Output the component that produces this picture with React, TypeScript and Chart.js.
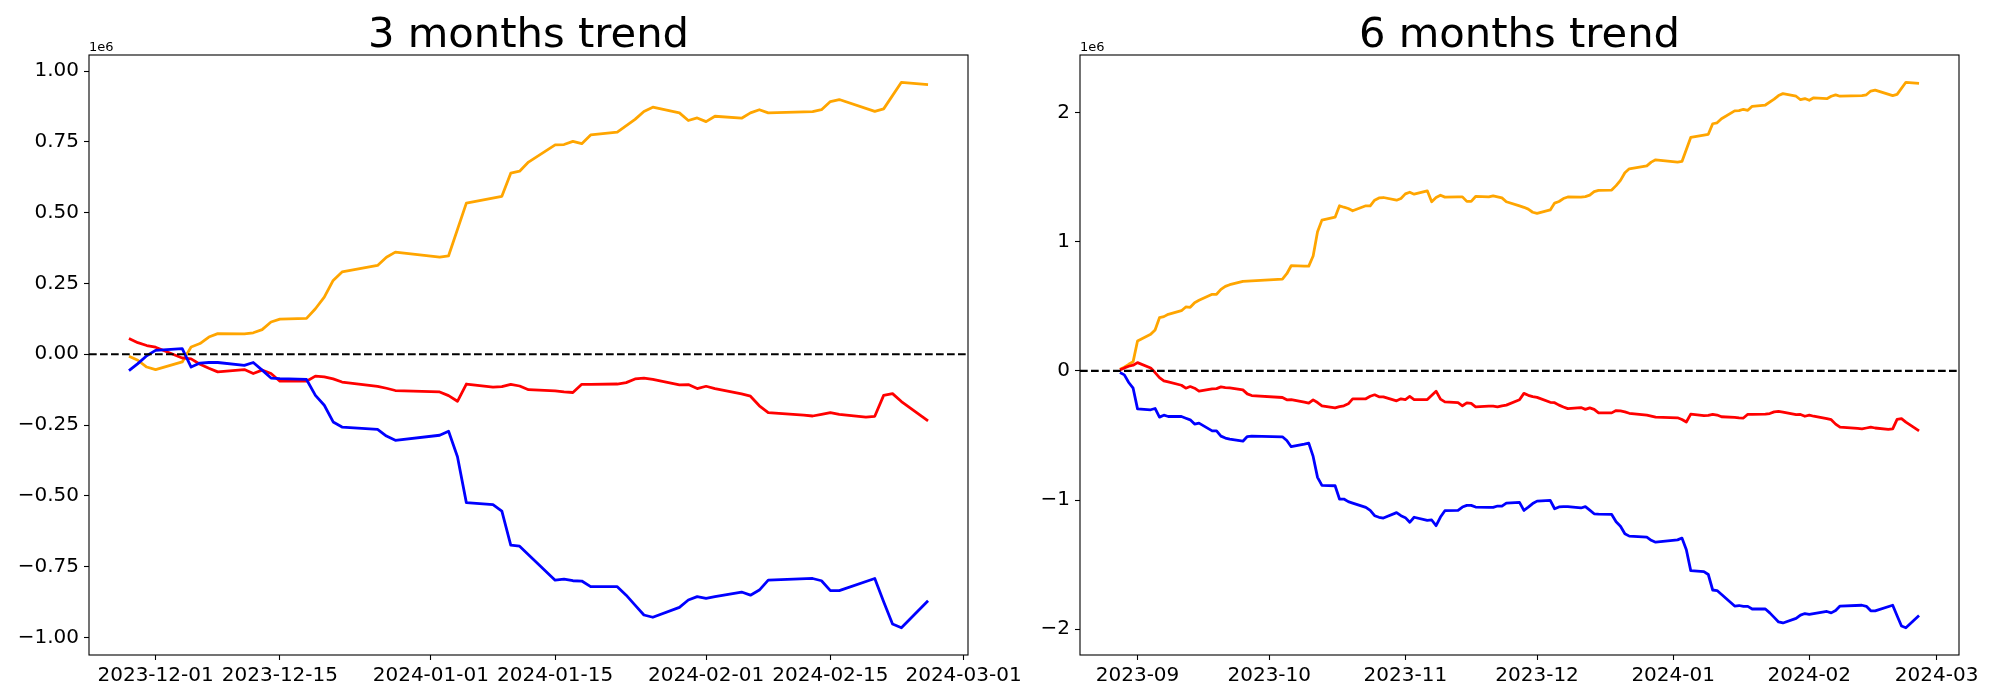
import React, { useEffect, useRef } from 'react';
import { Chart, registerables } from 'chart.js';

Chart.register(...registerables);

// ---------- data (values in units of 1e6) ----------
const dates3 = [
  '2023-11-28','2023-11-29','2023-11-30','2023-12-01','2023-12-04','2023-12-05','2023-12-06','2023-12-07','2023-12-08',
  '2023-12-11','2023-12-12','2023-12-13','2023-12-14','2023-12-15','2023-12-18','2023-12-19','2023-12-20','2023-12-21',
  '2023-12-22','2023-12-26','2023-12-27','2023-12-28','2023-12-29','2024-01-02','2024-01-03','2024-01-04','2024-01-05',
  '2024-01-08','2024-01-09','2024-01-10','2024-01-11','2024-01-12','2024-01-15','2024-01-16','2024-01-17','2024-01-18',
  '2024-01-19','2024-01-22','2024-01-23','2024-01-24','2024-01-25','2024-01-26','2024-01-29','2024-01-30','2024-01-31',
  '2024-02-01','2024-02-02','2024-02-05','2024-02-06','2024-02-07','2024-02-08','2024-02-09','2024-02-12','2024-02-13',
  '2024-02-14','2024-02-15','2024-02-16','2024-02-19','2024-02-20','2024-02-21','2024-02-22','2024-02-23','2024-02-26',
];
const orange3 = [
  -0.007,-0.021,-0.045,-0.054,-0.027,0.026,0.038,0.061,0.073,
  0.072,0.076,0.087,0.114,0.124,0.127,0.161,0.202,0.261,
  0.291,0.314,0.343,0.361,null,0.343,0.348,null,0.534,
  null,0.558,0.640,0.647,0.679,0.740,0.741,0.752,0.744,
  0.775,0.785,null,0.830,0.858,0.873,0.853,0.826,0.835,
  0.822,0.841,0.834,0.853,0.864,0.853,null,null,0.857,
  0.864,0.893,0.900,null,0.858,0.867,null,0.961,0.953,
];
const red3 = [
  0.056,0.041,0.031,0.025,-0.013,-0.016,-0.035,-0.049,-0.062,
  -0.054,-0.068,-0.056,-0.068,-0.095,-0.095,-0.077,-0.080,-0.087,
  -0.098,-0.113,-0.120,-0.128,null,-0.133,-0.146,-0.166,-0.105,
  -0.116,-0.114,-0.106,-0.112,-0.125,-0.129,-0.133,-0.135,-0.106,
  -0.106,-0.105,-0.100,-0.087,-0.084,-0.089,-0.108,-0.107,-0.121,
  -0.113,-0.121,-0.140,-0.148,-0.182,-0.206,null,-0.215,-0.218,
  -0.212,-0.206,-0.212,-0.222,-0.219,-0.145,-0.139,-0.167,-0.235,
];
const blue3 = [
  -0.058,-0.033,-0.005,0.014,0.020,-0.045,-0.031,-0.029,-0.029,
  -0.039,-0.029,-0.056,-0.084,-0.086,-0.089,-0.145,-0.180,-0.239,
  -0.257,-0.265,-0.289,-0.304,null,-0.286,-0.272,-0.362,-0.524,
  -0.531,-0.554,-0.674,-0.678,null,-0.798,-0.794,-0.800,-0.801,
  -0.821,-0.821,-0.851,-0.886,-0.921,-0.929,-0.894,-0.868,-0.856,
  -0.862,-0.856,-0.840,-0.851,-0.833,-0.798,null,null,-0.792,
  -0.800,-0.835,-0.835,null,-0.792,-0.874,-0.953,-0.966,-0.871,
];

const dates6 = [
  '2023-08-28','2023-08-29','2023-08-30','2023-08-31','2023-09-01',
  '2023-09-04','2023-09-05','2023-09-06','2023-09-07','2023-09-08',
  '2023-09-11','2023-09-12','2023-09-13','2023-09-14','2023-09-15',
  '2023-09-18','2023-09-19','2023-09-20','2023-09-21','2023-09-22',
  '2023-09-25','2023-09-26','2023-09-27','2023-09-28','2023-09-29',
  '2023-10-02','2023-10-03','2023-10-04','2023-10-05','2023-10-06',
  '2023-10-09','2023-10-10','2023-10-11','2023-10-12','2023-10-13',
  '2023-10-16','2023-10-17','2023-10-18','2023-10-19','2023-10-20',
  '2023-10-23','2023-10-24','2023-10-25','2023-10-26','2023-10-27',
  '2023-10-30','2023-10-31','2023-11-01','2023-11-02','2023-11-03',
  '2023-11-06','2023-11-07','2023-11-08','2023-11-09','2023-11-10',
  '2023-11-13','2023-11-14','2023-11-15','2023-11-16','2023-11-17',
  '2023-11-20','2023-11-21','2023-11-22','2023-11-23','2023-11-24',
  '2023-11-27',
  '2023-11-28','2023-11-29','2023-11-30','2023-12-01','2023-12-04','2023-12-05','2023-12-06','2023-12-07','2023-12-08',
  '2023-12-11','2023-12-12','2023-12-13','2023-12-14','2023-12-15','2023-12-18','2023-12-19','2023-12-20','2023-12-21',
  '2023-12-22','2023-12-26','2023-12-27','2023-12-28','2023-12-29','2024-01-02','2024-01-03','2024-01-04','2024-01-05',
  '2024-01-08','2024-01-09','2024-01-10','2024-01-11','2024-01-12','2024-01-15','2024-01-16','2024-01-17','2024-01-18',
  '2024-01-19','2024-01-22','2024-01-23','2024-01-24','2024-01-25','2024-01-26','2024-01-29','2024-01-30','2024-01-31',
  '2024-02-01','2024-02-02','2024-02-05','2024-02-06','2024-02-07','2024-02-08','2024-02-09','2024-02-12','2024-02-13',
  '2024-02-14','2024-02-15','2024-02-16','2024-02-19','2024-02-20','2024-02-21','2024-02-22','2024-02-23','2024-02-26',
];
const orange6 = [
  0.013,0.028,0.051,0.072,0.232,
  0.283,0.317,0.412,0.420,0.438,
  0.466,0.495,0.492,0.528,0.546,
  0.593,0.593,0.631,0.654,0.667,
  0.693,null,null,null,null,
  null,null,0.711,0.752,0.814,
  0.811,0.811,0.889,1.077,1.167,
  1.190,1.278,1.267,1.257,1.239,
  1.278,1.278,1.321,1.339,1.342,
  1.321,1.335,1.370,1.383,1.368,
  1.394,1.309,1.342,1.360,1.345,
  1.347,1.347,1.312,1.312,1.350,
  1.347,1.355,1.347,1.339,1.309,
  1.277,
  1.266,1.252,1.228,1.219,1.246,1.299,1.311,1.334,1.346,
  1.345,1.349,1.360,1.387,1.397,1.400,1.434,1.475,1.534,
  1.564,1.587,1.616,1.634,null,1.616,1.621,null,1.807,
  null,1.831,1.913,1.920,1.952,2.013,2.014,2.025,2.017,
  2.048,2.058,null,2.103,2.131,2.146,2.126,2.099,2.108,
  2.095,2.114,2.107,2.126,2.137,2.126,null,null,2.130,
  2.137,2.166,2.173,null,2.131,2.140,null,2.234,2.226,
];
const red6 = [
  0.008,0.023,0.036,0.044,0.064,
  0.023,-0.013,-0.052,-0.077,-0.085,
  -0.111,-0.134,-0.121,-0.134,-0.157,
  -0.139,-0.137,-0.124,-0.129,-0.131,
  -0.147,-0.178,-0.191,null,null,
  null,null,-0.206,-0.224,-0.222,
  -0.242,-0.250,-0.224,-0.245,-0.270,
  -0.286,-0.276,-0.270,-0.255,-0.216,
  -0.216,-0.196,-0.185,-0.201,-0.201,
  -0.232,-0.216,-0.222,-0.198,-0.222,
  -0.222,null,-0.157,-0.219,-0.240,
  -0.245,-0.270,-0.247,-0.252,-0.278,
  -0.273,-0.273,-0.278,-0.270,-0.265,
  -0.224,
  -0.174,-0.189,-0.199,-0.205,-0.243,-0.246,-0.265,-0.279,-0.292,
  -0.284,-0.298,-0.286,-0.298,-0.325,-0.325,-0.307,-0.310,-0.317,
  -0.328,-0.343,-0.350,-0.358,null,-0.363,-0.376,-0.396,-0.335,
  -0.346,-0.344,-0.336,-0.342,-0.355,-0.359,-0.363,-0.365,-0.336,
  -0.336,-0.335,-0.330,-0.317,-0.314,-0.319,-0.338,-0.337,-0.351,
  -0.343,-0.351,-0.370,-0.378,-0.412,-0.436,null,-0.445,-0.448,
  -0.442,-0.436,-0.442,-0.452,-0.449,-0.375,-0.369,-0.397,-0.465,
];
const blue6 = [
  -0.013,-0.031,-0.090,-0.134,-0.294,
  -0.301,-0.291,-0.358,-0.343,-0.353,
  -0.353,-0.366,-0.379,-0.412,-0.404,
  -0.464,-0.464,-0.505,-0.520,-0.528,
  -0.544,-0.508,-0.505,null,null,
  null,null,-0.510,-0.539,-0.587,
  -0.567,-0.559,-0.662,-0.824,-0.886,
  -0.889,-0.992,-0.992,-1.012,-1.023,
  -1.056,-1.079,-1.121,-1.133,-1.139,
  -1.097,-1.121,-1.136,-1.172,-1.133,
  -1.157,-1.154,-1.198,-1.131,-1.082,
  -1.079,-1.054,-1.041,-1.041,-1.054,
  -1.056,-1.056,-1.046,-1.046,-1.023,
  -1.018,
  -1.080,-1.055,-1.027,-1.008,-1.002,-1.067,-1.053,-1.051,-1.051,
  -1.061,-1.051,-1.078,-1.106,-1.108,-1.111,-1.167,-1.202,-1.261,
  -1.279,-1.287,-1.311,-1.326,null,-1.308,-1.294,-1.384,-1.546,
  -1.553,-1.576,-1.696,-1.700,null,-1.820,-1.816,-1.822,-1.823,
  -1.843,-1.843,-1.873,-1.908,-1.943,-1.951,-1.916,-1.890,-1.878,
  -1.884,-1.878,-1.862,-1.873,-1.855,-1.820,null,null,-1.814,
  -1.822,-1.857,-1.857,null,-1.814,-1.896,-1.975,-1.988,-1.893,
];

const xTickDates3 = ['2023-12-01','2023-12-15','2024-01-01','2024-01-15','2024-02-01','2024-02-15','2024-03-01'];
const xTickLabels3 = ['2023-12-01','2023-12-15','2024-01-01','2024-01-15','2024-02-01','2024-02-15','2024-03-01'];
const xTickDates6 = ['2023-09-01','2023-10-01','2023-11-01','2023-12-01','2024-01-01','2024-02-01','2024-03-01'];
const xTickLabels6 = ['2023-09','2023-10','2023-11','2023-12','2024-01','2024-02','2024-03'];
const yTicks3 = [-1, -0.75, -0.5, -0.25, 0, 0.25, 0.5, 0.75, 1];
const yTicks6 = [-2, -1, 0, 1, 2];

const COLORS = { orange: '#ffa500', red: '#ff0000', blue: '#0000ff' };
const FONT = '"DejaVu Sans", "Liberation Sans", sans-serif';

const DAY = 86400000;
function toDay(s: string): number {
  const [y, m, d] = s.split('-').map(Number);
  return Date.UTC(y, m - 1, d) / DAY;
}

const mplPlugin = {
  id: 'mpl',
  afterDatasetsDraw(chart: any) {
    const { ctx, chartArea: a, scales } = chart;
    const y0 = scales.y.getPixelForValue(0);
    ctx.save();
    ctx.beginPath();
    ctx.rect(a.left, a.top, a.right - a.left, a.bottom - a.top);
    ctx.clip();
    ctx.setLineDash([7.7, 3.3]);
    ctx.lineWidth = 2.08;
    ctx.strokeStyle = '#000';
    ctx.beginPath();
    ctx.moveTo(a.left, y0);
    ctx.lineTo(a.right, y0);
    ctx.stroke();
    ctx.restore();
    ctx.save();
    ctx.lineWidth = 1.1;
    ctx.strokeStyle = '#000';
    ctx.strokeRect(a.left, a.top, a.right - a.left, a.bottom - a.top);
    ctx.restore();
  },
  afterDraw(chart: any, _args: any, opts: any) {
    const { ctx, chartArea: a } = chart;
    ctx.save();
    ctx.fillStyle = '#000';
    ctx.font = `41.7px ${FONT}`;
    ctx.textAlign = 'center';
    ctx.textBaseline = 'alphabetic';
    ctx.fillText(opts.title, (a.left + a.right) / 2, a.top - 8.3);
    ctx.font = `13px ${FONT}`;
    ctx.textAlign = 'left';
    ctx.fillText('1e6', a.left, a.top - 4);
    ctx.restore();
  },
};

type Params = {
  dates: string[];
  series: { values: (number | null)[]; color: string; order: number }[];
  xTickDates: string[];
  xTickLabels: string[];
  yTicks: number[];
  decimals: number;
  title: string;
  width: number;
  plotLeft: number;
  plotRight: number;
};

function fmtY(v: number, decimals: number) {
  return v.toFixed(decimals).replace('-', '\u2212');
}

function buildConfig(p: Params): any {
  const xs = p.dates.map(toDay);
  const all: number[] = [];
  p.series.forEach((s) => s.values.forEach((v) => { if (v !== null) all.push(v); }));
  const ymin = Math.min(...all), ymax = Math.max(...all);
  const ym = (ymax - ymin) * 0.05;
  const xmin = Math.min(...xs), xmax = Math.max(...xs);
  const xm = (xmax - xmin) * 0.05;
  const xTickDays = p.xTickDates.map(toDay);
  const tickFont = { family: FONT, size: 20 };
  const gridCommon = {
    display: true,
    drawOnChartArea: false,
    drawTicks: true,
    tickLength: 5,
    tickColor: '#000',
    tickWidth: 1.1,
  };
  return {
    type: 'line',
    data: {
      datasets: p.series.map((s) => ({
        data: xs.map((x, i) => ({ x, y: s.values[i] })),
        borderColor: s.color,
        backgroundColor: s.color,
        borderWidth: 2.78,
        pointRadius: 0,
        tension: 0,
        fill: false,
        spanGaps: true,
        borderJoinStyle: 'round',
        borderCapStyle: 'butt',
        order: s.order,
      })),
    },
    options: {
      animation: false,
      responsive: false,
      maintainAspectRatio: false,
      devicePixelRatio: 1,
      events: [],
      layout: { padding: { top: 55, bottom: 0, left: 0, right: p.width - p.plotRight } },
      plugins: {
        legend: { display: false },
        tooltip: { enabled: false },
        title: { display: false },
        mpl: { title: p.title },
      },
      scales: {
        x: {
          type: 'linear',
          min: xmin - xm,
          max: xmax + xm,
          afterBuildTicks: (s: any) => { s.ticks = xTickDays.map((v) => ({ value: v })); },
          afterFit: (s: any) => { s.height = 45; },
          ticks: {
            callback: (_v: any, i: number) => p.xTickLabels[i],
            font: tickFont,
            color: '#000',
            maxRotation: 0,
            minRotation: 0,
            autoSkip: false,
            padding: 4,
          },
          grid: gridCommon,
          border: { display: false },
        },
        y: {
          type: 'linear',
          min: ymin - ym,
          max: ymax + ym,
          afterBuildTicks: (s: any) => { s.ticks = p.yTicks.map((v) => ({ value: v })); },
          afterFit: (s: any) => { s.width = p.plotLeft; },
          ticks: {
            callback: (v: any) => fmtY(Number(v), p.decimals),
            font: tickFont,
            color: '#000',
            autoSkip: false,
            padding: 5,
          },
          grid: gridCommon,
          border: { display: false },
        },
      },
    },
    plugins: [mplPlugin],
  };
}

function ChartCanvas({ params, left }: { params: Params; left: number }) {
  const ref = useRef<HTMLCanvasElement | null>(null);
  useEffect(() => {
    if (!ref.current) return;
    const chart = new Chart(ref.current, buildConfig(params));
    return () => chart.destroy();
  }, [params]);
  return (
    <canvas
      ref={ref}
      width={params.width}
      height={700}
      style={{ position: 'absolute', left, top: 0, width: params.width, height: 700 }}
    />
  );
}

const params3: Params = {
  dates: dates3,
  series: [
    { values: orange3, color: COLORS.orange, order: 3 },
    { values: red3, color: COLORS.red, order: 2 },
    { values: blue3, color: COLORS.blue, order: 1 },
  ],
  xTickDates: xTickDates3,
  xTickLabels: xTickLabels3,
  yTicks: yTicks3,
  decimals: 2,
  title: '3 months trend',
  width: 1080,
  plotLeft: 89,
  plotRight: 968,
};

const params6: Params = {
  dates: dates6,
  series: [
    { values: orange6, color: COLORS.orange, order: 3 },
    { values: red6, color: COLORS.red, order: 2 },
    { values: blue6, color: COLORS.blue, order: 1 },
  ],
  xTickDates: xTickDates6,
  xTickLabels: xTickLabels6,
  yTicks: yTicks6,
  decimals: 0,
  title: '6 months trend',
  width: 1000,
  plotLeft: 80,
  plotRight: 959,
};

export default function App() {
  return (
    <div style={{ position: 'absolute', left: 0, top: 0, width: 2000, height: 700, background: '#fff', overflow: 'hidden' }}>
      <ChartCanvas params={params3} left={0} />
      <ChartCanvas params={params6} left={1000} />
    </div>
  );
}
